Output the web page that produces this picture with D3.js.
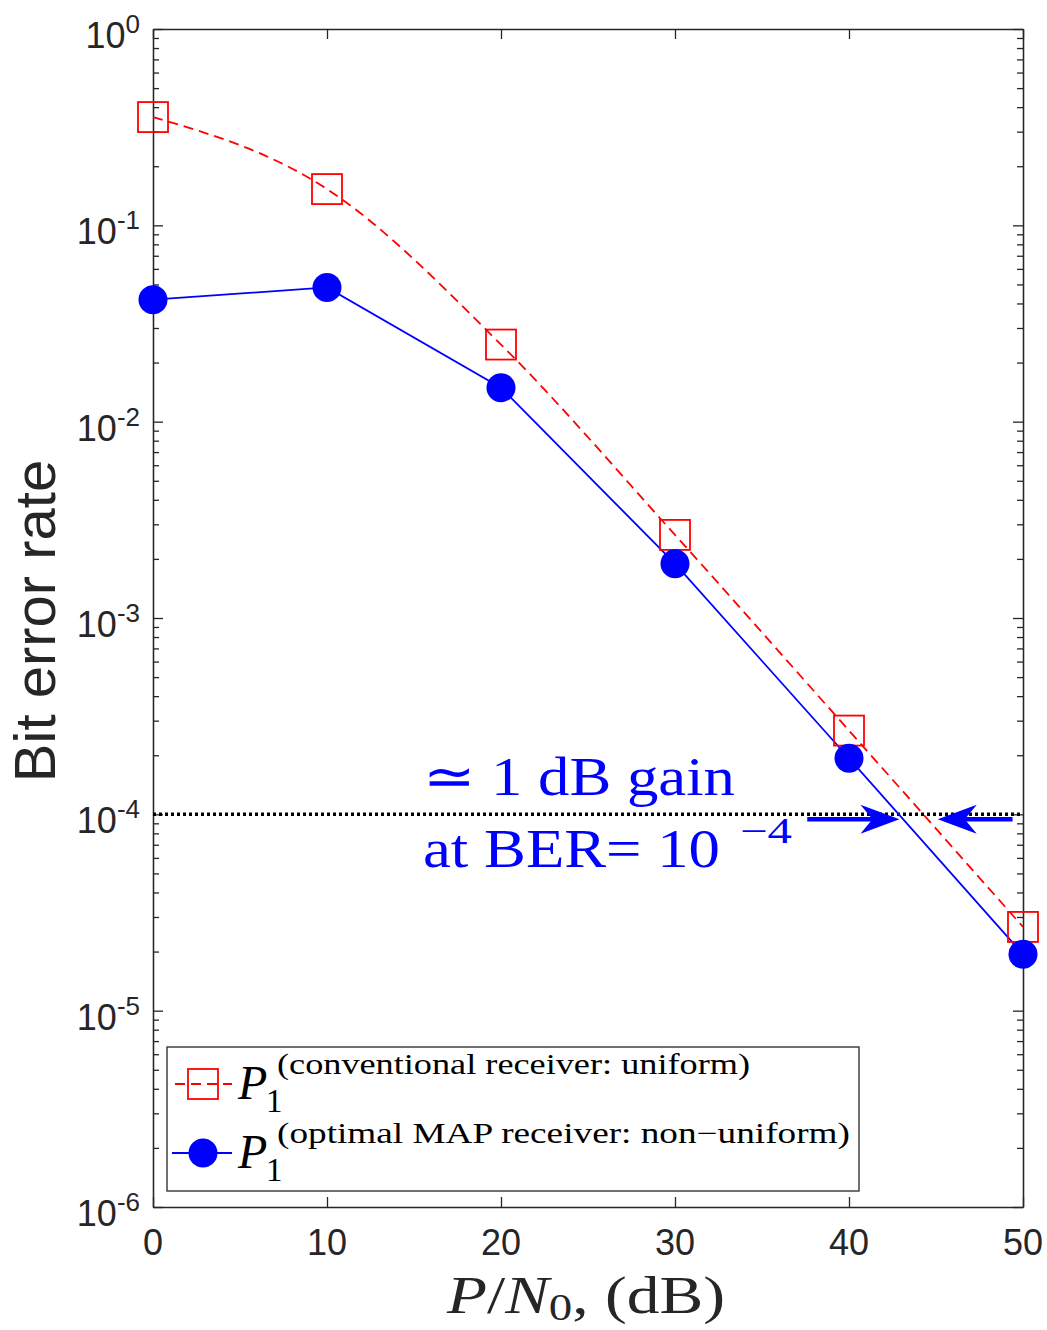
<!DOCTYPE html>
<html>
<head>
<meta charset="utf-8">
<script src="https://cdn.jsdelivr.net/npm/d3@7"></script>
<style>
body { margin: 0; background: #fff; }
svg { display: block; }
</style>
</head>
<body>
<svg id="chart" width="1047" height="1330"></svg>
<script>
// values
var snr = [0, 10, 20, 30, 40, 50];
var berConventional = [0.356, 0.153, 0.0247, 0.00265, 2.67e-4, 2.67e-5];
var berOptimal = [0.0418, 0.0483, 0.0149, 0.00189, 1.93e-4, 1.94e-5];
var xTicks = [0, 10, 20, 30, 40, 50];
var yExponents = [0, -1, -2, -3, -4, -5, -6];
var berTarget = 1e-4;
var arrowFrom = [37.6, 49.4];
var arrowTo = [42.9, 45.1];
var legendLabels = ["(conventional receiver: uniform)", "(optimal MAP receiver: non\u2212uniform)"];

var svg = d3.select("#chart");
var plotLeft = 153, plotRight = 1023, plotTop = 29, plotBottom = 1207;
var axisColor = "#262626";
var sans = "'Liberation Sans', Arial, sans-serif";
var serif = "'Liberation Serif', 'Times New Roman', serif";

var x = d3.scaleLinear().domain([0, 50]).range([plotLeft, plotRight]);
var y = d3.scaleLog().domain([1e-6, 1]).range([plotBottom, plotTop]);

var majors = yExponents.map(function(e) { return Math.pow(10, e); });
var minors = [];
for (var e = -6; e < 0; e++) {
    for (var k = 2; k < 10; k++) minors.push(k * Math.pow(10, e));
}

function styleAxis(g) {
    g.selectAll("path, line").attr("stroke", axisColor).attr("stroke-width", 1.3);
    g.selectAll("text").remove();
}

// axes, ticks pointing inward
svg.append("g").attr("transform", "translate(0," + plotBottom + ")")
    .call(d3.axisBottom(x).tickValues(xTicks).tickSize(-10).tickSizeOuter(0).tickFormat("")).call(styleAxis);
svg.append("g").attr("transform", "translate(0," + plotTop + ")")
    .call(d3.axisTop(x).tickValues(xTicks).tickSize(-10).tickSizeOuter(0).tickFormat("")).call(styleAxis);
svg.append("g").attr("transform", "translate(" + plotLeft + ",0)")
    .call(d3.axisLeft(y).tickValues(majors).tickSize(-10).tickSizeOuter(0).tickFormat("")).call(styleAxis);
svg.append("g").attr("transform", "translate(" + plotLeft + ",0)")
    .call(d3.axisLeft(y).tickValues(minors).tickSize(-6).tickSizeOuter(0).tickFormat("")).call(styleAxis);
svg.append("g").attr("transform", "translate(" + plotRight + ",0)")
    .call(d3.axisRight(y).tickValues(majors).tickSize(-10).tickSizeOuter(0).tickFormat("")).call(styleAxis);
svg.append("g").attr("transform", "translate(" + plotRight + ",0)")
    .call(d3.axisRight(y).tickValues(minors).tickSize(-6).tickSizeOuter(0).tickFormat("")).call(styleAxis);

// tick labels
svg.append("g").selectAll("text").data(xTicks).enter().append("text")
    .attr("x", function(d) { return x(d); })
    .attr("y", plotBottom + 48)
    .attr("text-anchor", "middle")
    .attr("font-family", sans).attr("font-size", 36).attr("fill", axisColor)
    .text(function(d) { return d; });

var yLab = svg.append("g").selectAll("text").data(yExponents).enter().append("text")
    .attr("x", plotLeft - 13)
    .attr("y", function(d) { return y(Math.pow(10, d)) + 19; })
    .attr("text-anchor", "end")
    .attr("font-family", sans).attr("font-size", 36).attr("fill", axisColor);
yLab.append("tspan").text("10");
yLab.append("tspan").attr("font-size", 26).attr("dy", -15).text(function(d) { return d; });

svg.append("text")
    .attr("transform", "translate(55," + ((plotTop + plotBottom) / 2 + 3) + ") rotate(-90)")
    .attr("text-anchor", "middle")
    .attr("font-family", sans).attr("font-size", 58).attr("fill", axisColor)
    .text("Bit error rate");

var xl = svg.append("text")
    .attr("x", 447).attr("y", 1313)
    .attr("font-family", serif).attr("font-size", 53).attr("fill", axisColor)
    .attr("textLength", 278).attr("lengthAdjust", "spacingAndGlyphs");
xl.append("tspan").attr("font-style", "italic").text("P");
xl.append("tspan").text("/");
xl.append("tspan").attr("font-style", "italic").text("N");
xl.append("tspan").attr("font-size", 38).attr("dy", 7).text("0");
xl.append("tspan").attr("dy", -7).text(", (dB)");

// BER = 1e-4 reference line
svg.append("line")
    .attr("x1", plotLeft).attr("x2", plotRight)
    .attr("y1", y(berTarget)).attr("y2", y(berTarget))
    .attr("stroke", "#000").attr("stroke-width", 3.5).attr("stroke-dasharray", "3,3");

// curves
var lineConv = d3.line()
    .x(function(d, i) { return x(snr[i]); })
    .y(function(d) { return y(d); })
    .curve(d3.curveMonotoneX);
var lineOpt = d3.line()
    .x(function(d, i) { return x(snr[i]); })
    .y(function(d) { return y(d); });

svg.append("path").datum(berConventional).attr("d", lineConv)
    .attr("fill", "none").attr("stroke", "#ff0000").attr("stroke-width", 1.8).attr("stroke-dasharray", "10,6");
svg.append("path").datum(berOptimal).attr("d", lineOpt)
    .attr("fill", "none").attr("stroke", "#0000ff").attr("stroke-width", 1.8);

svg.append("g").selectAll("rect").data(berConventional).enter().append("rect")
    .attr("x", function(d, i) { return x(snr[i]) - 15; })
    .attr("y", function(d) { return y(d) - 15; })
    .attr("width", 30).attr("height", 30)
    .attr("fill", "none").attr("stroke", "#ff0000").attr("stroke-width", 1.8);
svg.append("g").selectAll("circle").data(berOptimal).enter().append("circle")
    .attr("cx", function(d, i) { return x(snr[i]); })
    .attr("cy", function(d) { return y(d); })
    .attr("r", 14.5).attr("fill", "#0000ff");

// gain arrows
var arrowY = y(berTarget) + 5;
arrowFrom.forEach(function(f, i) {
    var t = arrowTo[i];
    var dir = t > f ? 1 : -1;
    var tip = x(t);
    svg.append("line")
        .attr("x1", x(f)).attr("x2", tip - dir * 26)
        .attr("y1", arrowY).attr("y2", arrowY)
        .attr("stroke", "#0000ff").attr("stroke-width", 4.5);
    var p = d3.path();
    p.moveTo(tip, arrowY);
    p.lineTo(tip - dir * 39, arrowY - 14.5);
    p.lineTo(tip - dir * 27, arrowY);
    p.lineTo(tip - dir * 39, arrowY + 14.5);
    p.closePath();
    svg.append("path").attr("d", p.toString()).attr("fill", "#0000ff");
});

// annotation
svg.append("text")
    .attr("x", 423).attr("y", 795)
    .attr("font-family", serif).attr("font-size", 54).attr("fill", "#0000ff")
    .attr("textLength", 312).attr("lengthAdjust", "spacingAndGlyphs")
    .text("\u2243 1 dB gain");
svg.append("text")
    .attr("x", 423).attr("y", 867)
    .attr("font-family", serif).attr("font-size", 54).attr("fill", "#0000ff")
    .attr("textLength", 297).attr("lengthAdjust", "spacingAndGlyphs")
    .text("at BER= 10");
svg.append("text")
    .attr("x", 740).attr("y", 843)
    .attr("font-family", serif).attr("font-size", 36).attr("fill", "#0000ff")
    .attr("textLength", 52).attr("lengthAdjust", "spacingAndGlyphs")
    .text("\u22124");

// legend
svg.append("rect")
    .attr("x", 167).attr("y", 1047).attr("width", 692).attr("height", 144)
    .attr("fill", "#fff").attr("stroke", axisColor).attr("stroke-width", 1.3);

var legendRows = [1084, 1153];
svg.append("line").attr("x1", 172).attr("x2", 232).attr("y1", legendRows[0]).attr("y2", legendRows[0])
    .attr("stroke", "#ff0000").attr("stroke-width", 1.8).attr("stroke-dasharray", "10,6").attr("stroke-dashoffset", -3);
svg.append("rect").attr("x", 188).attr("y", legendRows[0] - 15).attr("width", 30).attr("height", 30)
    .attr("fill", "none").attr("stroke", "#ff0000").attr("stroke-width", 1.8);
svg.append("line").attr("x1", 172).attr("x2", 232).attr("y1", legendRows[1]).attr("y2", legendRows[1])
    .attr("stroke", "#0000ff").attr("stroke-width", 1.8);
svg.append("circle").attr("cx", 203).attr("cy", legendRows[1]).attr("r", 14.5).attr("fill", "#0000ff");

var supLength = [473, 573];
legendLabels.forEach(function(lbl, i) {
    var row = legendRows[i];
    svg.append("text").attr("x", 238).attr("y", row + 15)
        .attr("font-family", serif).attr("font-style", "italic").attr("font-size", 48).attr("fill", "#000")
        .text("P");
    svg.append("text").attr("x", 266).attr("y", row + 28)
        .attr("font-family", serif).attr("font-size", 33).attr("fill", "#000")
        .text("1");
    svg.append("text").attr("x", 277).attr("y", row - 10)
        .attr("font-family", serif).attr("font-size", 29).attr("fill", "#000")
        .attr("textLength", supLength[i]).attr("lengthAdjust", "spacingAndGlyphs")
        .text(lbl);
});
</script>
</body>
</html>
